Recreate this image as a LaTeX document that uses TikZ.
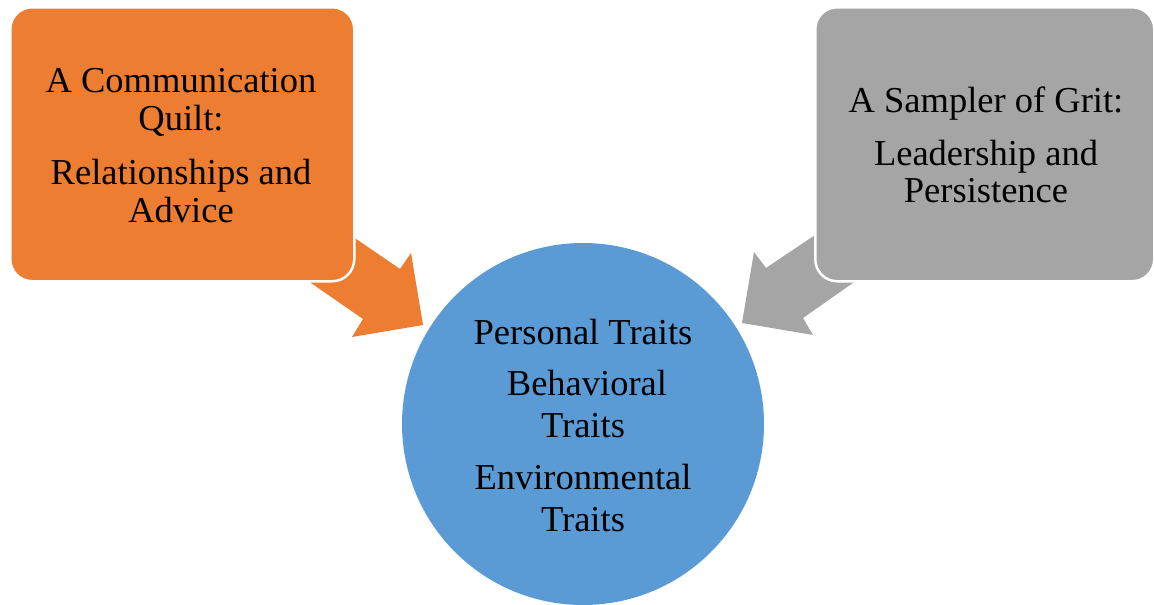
\documentclass[tikz,border=0pt]{standalone}
\usepackage{fontspec}
\setmainfont{Liberation Serif}
\definecolor{orangeF}{HTML}{ED7D31}
\definecolor{grayF}{HTML}{A5A5A5}
\definecolor{blueF}{HTML}{5B9BD5}
\begin{document}
\begin{tikzpicture}[x=1pt,y=-1pt,
  box/.style={draw=white,line width=2.5pt,rounded corners=22pt},
  lbl/.style={anchor=base,inner sep=0pt,font=\fontsize{36.5}{38}\selectfont,text=black}]
\useasboundingbox (0,0) rectangle (1154,605);
% block arrows (behind boxes)
\fill[orangeF] (300,275.4) -- (363,319) -- (352,337) -- (423,325) -- (411,253) -- (400,269) -- (330,221) -- cycle;
\fill[grayF] (830,225) -- (766,268) -- (754,252) -- (742,323) -- (813,335) -- (803,318) -- (870,271) -- cycle;
% boxes
\node[box,fill=orangeF,minimum width=344pt,minimum height=274pt,anchor=north west,inner sep=0pt] (qb) at (9,6) {};
\node[box,fill=grayF,minimum width=339pt,minimum height=274pt,anchor=north west,inner sep=0pt] (gb) at (814,6) {};
\node[circle,fill=blueF,minimum size=362pt,inner sep=0pt] (c) at (583,424) {};
% texts
\node[lbl] (q1) at (181,92) {A Communication};
\node[lbl] (q2) at (181,130) {Quilt:};
\node[lbl] (q3) at (181,184) {Relationships and};
\node[lbl] (q4) at (181,222) {Advice};
\node[lbl] (g1) at (986,112) {A Sampler of Grit:};
\node[lbl] (g2) at (986,165) {Leadership and};
\node[lbl] (g3) at (986,202) {Persistence};
\node[lbl] (c1) at (583,344) {Personal Traits};
\node[lbl] (c2) at (587,395) {Behavioral};
\node[lbl] (c3) at (583,437) {Traits};
\node[lbl] (c4) at (583,489) {Environmental};
\node[lbl] (c5) at (583,531) {Traits};
\end{tikzpicture}
\end{document}
